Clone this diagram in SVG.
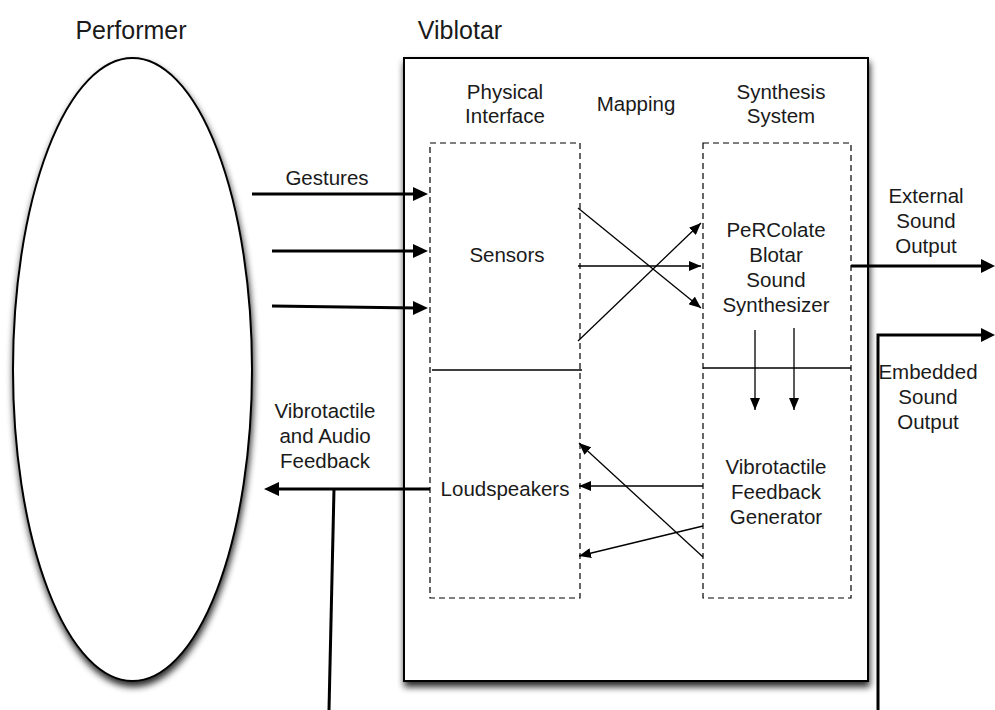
<svg xmlns="http://www.w3.org/2000/svg" width="995" height="710" viewBox="0 0 995 710">
<defs>
<filter id="sh" x="-20%" y="-20%" width="140%" height="140%" color-interpolation-filters="sRGB">
<feGaussianBlur in="SourceAlpha" stdDeviation="3.5"/>
<feOffset dx="1" dy="5" result="b"/>
<feComponentTransfer in="b" result="c"><feFuncA type="linear" slope="0.85"/></feComponentTransfer>
<feMerge><feMergeNode in="c"/><feMergeNode in="SourceGraphic"/></feMerge>
</filter>
<marker id="ahb" viewBox="0 0 12 10" refX="12" refY="5" markerWidth="12" markerHeight="10" markerUnits="userSpaceOnUse" orient="auto">
<path d="M0,0 L12,5 L0,10 Z" fill="#000"/>
</marker>
</defs>
<style>
text{font-family:"Liberation Sans",Arial,sans-serif;font-size:20.5px;fill:#1a1a1a;text-anchor:middle}
.title{font-size:25px}
.thin{stroke:#000;stroke-width:1.3;fill:none;marker-end:url(#ahb)}
.dash{fill:none;stroke:#000;stroke-width:1.2;stroke-dasharray:6,4}
.thk{stroke:#000;stroke-width:3;fill:none}
</style>
<rect width="995" height="710" fill="#fff"/>

<g id="performer">
<ellipse cx="132.5" cy="369.5" rx="119.5" ry="311.5" fill="#fff" stroke="#000" stroke-width="2" filter="url(#sh)"/>
<text class="title" x="131" y="39">Performer</text>
</g>

<g id="viblotar">
<rect x="404" y="58" width="464" height="623" fill="#fff" stroke="#000" stroke-width="2" filter="url(#sh)"/>
<text class="title" x="460" y="39">Viblotar</text>
<text x="505" y="99">Physical</text>
<text x="505" y="123">Interface</text>
<text x="636" y="111">Mapping</text>
<text x="781" y="99">Synthesis</text>
<text x="781" y="123">System</text>
</g>

<g id="physical-interface">
<rect class="dash" x="430" y="143" width="150" height="455"/>
<line x1="432" y1="370" x2="582" y2="370" stroke="#000" stroke-width="1.3"/>
</g>
<g id="sensors"><text x="507" y="262">Sensors</text></g>
<g id="loudspeakers"><text x="505" y="496">Loudspeakers</text></g>

<g id="synthesis-system">
<rect class="dash" x="703" y="143" width="148" height="455"/>
<line x1="703" y1="368" x2="851" y2="368" stroke="#000" stroke-width="1.3"/>
</g>
<g id="percolate">
<text x="776" y="237">PeRColate</text>
<text x="776" y="262">Blotar</text>
<text x="776" y="287">Sound</text>
<text x="776" y="312">Synthesizer</text>
</g>
<g id="vibro-generator">
<text x="776" y="474">Vibrotactile</text>
<text x="776" y="499">Feedback</text>
<text x="776" y="524">Generator</text>
</g>

<g id="labels">
<text x="327" y="185">Gestures</text>
<text x="325" y="418">Vibrotactile</text>
<text x="325" y="443">and Audio</text>
<text x="325" y="468">Feedback</text>
<text x="926" y="203">External</text>
<text x="926" y="228">Sound</text>
<text x="926" y="253">Output</text>
<text x="928" y="379">Embedded</text>
<text x="928" y="404">Sound</text>
<text x="928" y="429">Output</text>
</g>

<g id="connectors">
<line class="thk" x1="252" y1="194" x2="416" y2="194"/>
<path d="M413,187 L428,194 L413,201 Z"/>
<line class="thk" x1="272" y1="251" x2="416" y2="251"/>
<path d="M413,244 L428,251 L413,258 Z"/>
<line class="thk" x1="272" y1="306" x2="416" y2="308"/>
<path d="M413,301 L428,308 L413,315 Z"/>

<line class="thin" x1="578" y1="208" x2="701" y2="308"/>
<line class="thin" x1="578" y1="266" x2="701" y2="266"/>
<line class="thin" x1="578" y1="341" x2="701" y2="223"/>

<line class="thin" x1="755" y1="330" x2="755" y2="410"/>
<line class="thin" x1="794" y1="328" x2="794" y2="410"/>

<line class="thin" x1="703" y1="486" x2="579" y2="486"/>
<line class="thin" x1="703" y1="557" x2="579" y2="443"/>
<line class="thin" x1="703" y1="526" x2="579" y2="556"/>

<line class="thk" x1="430" y1="489" x2="278" y2="489"/>
<path d="M279,482 L264,489 L279,496 Z"/>
<line class="thk" x1="334" y1="489" x2="329" y2="710"/>

<line class="thk" x1="851" y1="266" x2="984" y2="266"/>
<path d="M981,259 L995,266 L981,273 Z"/>
<polyline class="thk" points="878,710 878,335 984,335"/>
<path d="M981,328 L995,335 L981,342 Z"/>
</g>
</svg>
